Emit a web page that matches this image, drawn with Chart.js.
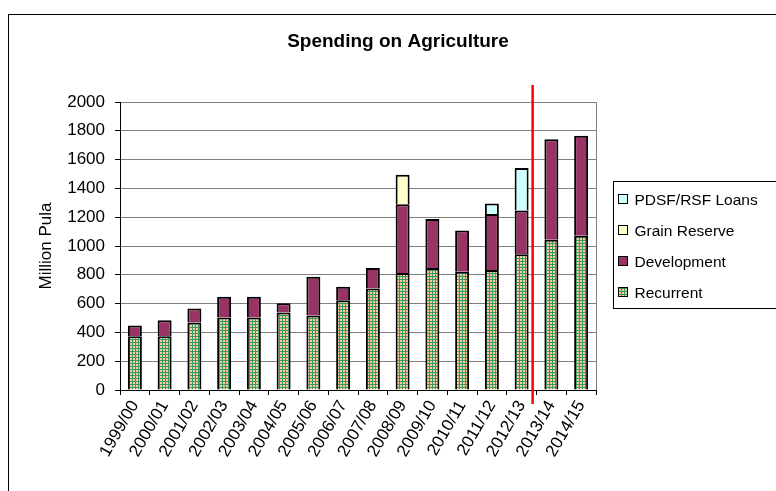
<!DOCTYPE html>
<html>
<head>
<meta charset="utf-8">
<script src="https://cdn.jsdelivr.net/npm/chart.js@4/dist/chart.umd.min.js"></script>
<style>
  html, body { margin: 0; padding: 0; background: #fff; overflow: hidden; }
  #frame { position: absolute; left: 8px; top: 14px; width: 800px; height: 500px; border: 1px solid #000; }
  #wrap { position: absolute; left: 0; top: 0; width: 776px; height: 491px; }
</style>
</head>
<body>
<div id="frame"></div>
<div id="wrap"><canvas id="chart" width="776" height="491"></canvas></div>
<script>
// ===============================
// Data (Million Pula)
// ===============================
const years = ["1999/00", "2000/01", "2001/02", "2002/03", "2003/04", "2004/05", "2005/06", "2006/07",
  "2007/08", "2008/09", "2009/10", "2010/11", "2011/12", "2012/13", "2013/14", "2014/15"];
const recurrent = [373, 373, 468, 503, 503, 538, 517, 624, 705, 812, 847, 821, 833, 942, 1044, 1072];
const development = [75, 112, 98, 144, 144, 65, 269, 93, 142, 478, 341, 286, 389, 304, 698, 693];
const grainReserve = [null, null, null, null, null, null, null, null, null, 204, null, null, null, null, null, null];
const loans = [null, null, null, null, null, null, null, null, null, null, null, null, 73, 295, null, null];
const yTicks = [0, 200, 400, 600, 800, 1000, 1200, 1400, 1600, 1800, 2000];

const FONT = "'Liberation Sans', Arial, sans-serif";

// checkered fill for "Recurrent"
function makePattern() {
  const c = document.createElement("canvas");
  c.width = 3;
  c.height = 3;
  const g = c.getContext("2d");
  g.fillStyle = "#339966";
  g.fillRect(0, 0, 3, 3);
  g.fillStyle = "#FFCC99";
  g.fillRect(1, 1, 2, 2);
  return g.createPattern(c, "repeat");
}

// ===============================
// Title, legend box, red divider
// ===============================
const extrasPlugin = {
  id: "extras",
  afterDraw(chart) {
    const ctx = chart.ctx;
    const area = chart.chartArea;
    const x = chart.scales.x;
    ctx.save();

    // plot area right border
    ctx.strokeStyle = "#808080";
    ctx.lineWidth = 1;
    ctx.beginPath();
    ctx.moveTo(area.right + 0.5, area.top);
    ctx.lineTo(area.right + 0.5, area.bottom);
    ctx.stroke();

    // title
    ctx.fillStyle = "#000";
    ctx.font = "bold 19px " + FONT;
    ctx.textAlign = "center";
    ctx.textBaseline = "middle";
    ctx.fillText("Spending on Agriculture", 398, 42);

    // legend
    const lx = area.right + 17.5;
    const ly = 181.5;
    ctx.strokeStyle = "#000";
    ctx.strokeRect(lx, ly, 200, 127);
    ctx.font = "15.5px " + FONT;
    ctx.textAlign = "left";
    const items = chart.data.datasets.slice().reverse();
    items.forEach((ds, i) => {
      const cy = 200 + i * 31;
      ctx.fillStyle = ds.backgroundColor;
      ctx.fillRect(lx + 5, cy - 5, 9, 9);
      ctx.strokeRect(lx + 5, cy - 5.5, 9, 9);
      ctx.fillStyle = "#000";
      ctx.fillText(ds.label, lx + 21, cy + 1);
    });

    // red divider between 2012/13 and 2013/14
    const step = x.getPixelForValue(14) - x.getPixelForValue(13);
    const rx = x.getPixelForValue(13) + step * 0.37;
    ctx.strokeStyle = "#FF0000";
    ctx.lineWidth = 2.5;
    ctx.beginPath();
    ctx.moveTo(rx, area.top - 17);
    ctx.lineTo(rx, area.bottom + 14);
    ctx.stroke();

    ctx.restore();
  },
};

const recurrentFill = makePattern();

new Chart(document.getElementById("chart"), {
  type: "bar",
  data: {
    labels: years,
    datasets: [
      { label: "Recurrent", data: recurrent, backgroundColor: recurrentFill },
      { label: "Development", data: development, backgroundColor: "#993366" },
      { label: "Grain Reserve", data: grainReserve, backgroundColor: "#FFFFCC" },
      { label: "PDSF/RSF Loans", data: loans, backgroundColor: "#CCFFFF" },
    ],
  },
  options: {
    responsive: false,
    animation: false,
    layout: { padding: { left: 32, top: 102, right: 180, bottom: 0 } },
    datasets: {
      bar: {
        borderColor: "#000",
        borderWidth: 2,
        barPercentage: 0.47,
        categoryPercentage: 1,
      },
    },
    plugins: {
      legend: { display: false },
      title: { display: false },
      tooltip: { enabled: false },
    },
    scales: {
      x: {
        stacked: true,
        afterFit: (scale) => { scale.height = 101; },
        grid: { drawOnChartArea: false, drawTicks: true, tickLength: 5, tickColor: "#000" },
        border: { color: "#000", width: 1 },
        ticks: {
          color: "#000",
          font: { family: FONT, size: 17 },
          minRotation: 60,
          maxRotation: 60,
          autoSkip: false,
          padding: 2,
        },
      },
      y: {
        stacked: true,
        min: 0,
        max: 2000,
        afterFit: (scale) => { scale.width = 88; },
        afterBuildTicks: (scale) => { scale.ticks = yTicks.map((v) => ({ value: v })); },
        grid: { color: "#808080", tickLength: 5, tickColor: "#000" },
        border: { color: "#000", width: 1 },
        ticks: {
          color: "#000",
          font: { family: FONT, size: 17 },
          padding: 10,
          callback: (v) => String(v),
        },
        title: {
          display: true,
          text: "Million Pula",
          color: "#000",
          font: { family: FONT, size: 17 },
        },
      },
    },
  },
  plugins: [extrasPlugin],
});
</script>
</body>
</html>
